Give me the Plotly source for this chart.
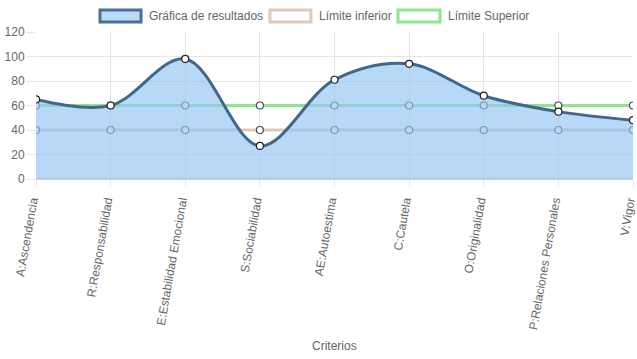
import plotly.graph_objects as go

categories = ["A:Ascendencia", "R:Responsabilidad", "E:Estabilidad Emocional", "S:Sociabilidad",
              "AE:Autoestima", "C:Cautela", "O:Originalidad", "P:Relaciones Personales", "V:Vigor"]
resultados = [65, 60, 98, 27, 81, 94, 68, 55, 48]
limite_inferior = [40, 40, 40, 40, 40, 40, 40, 40, 40]
limite_superior = [60, 60, 60, 60, 60, 60, 60, 60, 60]
y_ticks = [0, 20, 40, 60, 80, 100, 120]

FONT = "Liberation Sans, Arial, sans-serif"
GREY = "#666666"

fig = go.Figure()

fig.add_trace(go.Scatter(
    x=categories, y=limite_inferior, mode="lines+markers", name="Límite inferior",
    line=dict(color="#e3c7bb", width=3),
    marker=dict(size=7, color="white", line=dict(color="#3c4a5a", width=1.2)),
    showlegend=False))
fig.add_trace(go.Scatter(
    x=categories, y=limite_superior, mode="lines+markers", name="Límite Superior",
    line=dict(color="#8fe58f", width=3),
    marker=dict(size=7, color="white", line=dict(color="#3c4a5a", width=1.2)),
    showlegend=False))
fig.add_trace(go.Scatter(
    x=categories, y=resultados, mode="lines+markers", name="Gráfica de resultados",
    line=dict(color="#41678a", width=3, shape="spline", smoothing=1.0),
    fill="tozeroy", fillcolor="rgba(144,196,242,0.65)",
    marker=dict(size=7, color="white", line=dict(color="#222222", width=1.2)),
    showlegend=False))

# custom legend (Chart.js style boxes)
W = 637 - 36 - 4
H = 359 - 32 - 180
def px_x(p):
    return (p - 36) / W
def px_y(p):
    return (359 - 180 - p) / H

legend_items = [
    (100, 141, "#b9dbf7", "#4a6f93", "Gráfica de resultados", 147),
    (270, 311, "white", "#e3c7bb", "Límite inferior", 317),
    (398, 440, "white", "#8fe58f", "Límite Superior", 446),
]
for x0, x1, fc, lc, txt, tx in legend_items:
    fig.add_shape(type="rect", xref="paper", yref="paper",
                  x0=px_x(x0), x1=px_x(x1), y0=px_y(22), y1=px_y(10),
                  fillcolor=fc, line=dict(color=lc, width=3), layer="above")
    fig.add_annotation(xref="paper", yref="paper", x=px_x(tx), y=px_y(16),
                       text=txt, showarrow=False, xanchor="left", yanchor="middle",
                       font=dict(family=FONT, size=12, color=GREY))

fig.add_annotation(xref="paper", yref="paper", x=0.5, y=px_y(346), text="Criterios",
                   showarrow=False, xanchor="center", yanchor="middle",
                   font=dict(family=FONT, size=12, color=GREY))

fig.update_layout(
    width=637, height=359,
    margin=dict(l=36, r=4, t=32, b=180),
    paper_bgcolor="white", plot_bgcolor="white",
    showlegend=False,
    font=dict(family=FONT, size=12, color=GREY),
)
fig.update_xaxes(
    type="category", range=[0, 8], tickangle=-80,
    showgrid=True, gridcolor="#e6e6e6", gridwidth=1,
    ticks="outside", ticklen=6, tickcolor="#e6e6e6",
    showline=False, automargin=False, ticklabelshift=-4, ticklabelstandoff=3,
    tickfont=dict(family=FONT, size=12, color=GREY),
)
fig.update_yaxes(
    range=[0, 120], tickvals=y_ticks,
    showgrid=True, gridcolor="#e6e6e6", gridwidth=1,
    zeroline=True, zerolinecolor="#d0d0d0", zerolinewidth=2,
    ticks="outside", ticklen=8, tickcolor="#e6e6e6",
    showline=False, automargin=False,
    tickfont=dict(family=FONT, size=12, color=GREY),
)

fig.write_html("out.html", config={"displayModeBar": False},
               post_script="document.body.style.margin='0';document.body.style.overflow='hidden';")
